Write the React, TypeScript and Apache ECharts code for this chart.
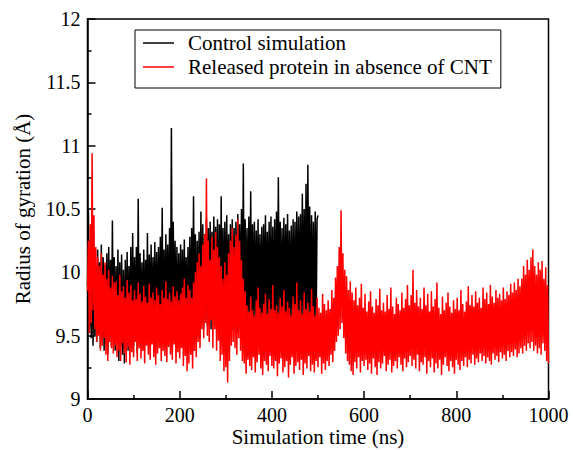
import React, { useEffect, useRef } from "react";
import * as echarts from "echarts";

// Sampling step of both trajectories (ns)
const STEP_NS = 2;

const xTicks = [0, 200, 400, 600, 800, 1000];
const yTicks = [9, 9.5, 10, 10.5, 11, 11.5, 12];

const seriesNames = ["Control simulation", "Released protein in absence of CNT"];

// Control simulation, t = 0..500 ns every 2 ns
const controlRg = [
  9.90, 10.49, 9.55, 10.20, 9.48, 10.15, 9.42, 10.10, 9.50, 10.05,
  9.45, 10.18, 9.52, 10.08, 9.40, 10.22, 9.47, 10.12, 9.38, 10.06,
  9.44, 10.15, 9.36, 10.20, 9.50, 10.10, 9.42, 10.41, 9.48, 10.12,
  9.38, 10.05, 9.45, 10.18, 9.30, 10.08, 9.42, 10.14, 9.35, 10.02,
  9.28, 10.10, 9.44, 10.16, 9.38, 10.05, 9.46, 10.20, 9.40, 10.31,
  9.42, 10.12, 9.48, 10.20, 9.36, 10.58, 9.44, 10.15, 9.50, 10.08,
  9.40, 10.18, 9.46, 10.10, 9.52, 10.31, 9.43, 10.14, 9.48, 10.22,
  9.45, 10.12, 9.50, 10.24, 9.41, 10.16, 9.47, 10.20, 9.53, 10.28,
  9.44, 10.51, 9.50, 10.18, 9.46, 10.30, 9.55, 10.22, 9.48, 10.35,
  9.52, 11.14, 9.58, 10.40, 9.50, 10.25, 9.45, 10.20, 9.52, 10.15,
  9.48, 10.22, 9.54, 10.18, 9.42, 10.26, 9.50, 10.12, 9.46, 10.20,
  9.55, 10.28, 9.48, 10.35, 9.52, 10.60, 9.58, 10.30, 9.50, 10.25,
  9.56, 10.32, 9.48, 10.48, 9.60, 10.38, 9.55, 10.30, 9.62, 10.42,
  9.58, 10.35, 9.65, 10.40, 9.55, 10.32, 9.60, 10.44, 9.57, 10.36,
  9.62, 10.42, 9.55, 10.38, 9.60, 10.60, 9.52, 10.35, 9.58, 10.40,
  9.55, 10.45, 9.62, 10.30, 9.50, 10.38, 9.58, 10.42, 9.54, 10.35,
  9.60, 10.40, 9.52, 10.46, 9.58, 10.38, 9.63, 10.50, 9.55, 10.86,
  9.58, 10.42, 9.62, 10.35, 9.55, 10.44, 9.60, 10.64, 9.57, 10.38,
  9.62, 10.40, 9.56, 10.33, 9.60, 10.42, 9.54, 10.30, 9.59, 10.36,
  9.55, 10.38, 9.60, 10.45, 9.57, 10.32, 9.63, 10.40, 9.56, 10.44,
  9.60, 10.36, 9.55, 10.42, 9.62, 10.48, 9.58, 10.75, 9.61, 10.40,
  9.57, 10.35, 9.62, 10.43, 9.55, 10.38, 9.60, 10.46, 9.56, 10.33,
  9.62, 10.37, 9.58, 10.42, 9.55, 10.40, 9.61, 10.48, 9.57, 10.44,
  9.60, 10.46, 9.56, 10.62, 9.62, 10.50, 9.58, 10.70, 9.60, 10.85,
  9.62, 10.52, 9.58, 10.45, 9.60, 10.40, 9.55, 10.48, 9.62, 10.42,
  10.45,
];

// Released protein without CNT, t = 0..1000 ns every 2 ns
const releasedRg = [
  9.85, 10.25, 9.52, 10.38, 9.60, 10.94, 9.70, 10.45, 9.55, 10.20,
  9.45, 10.12, 9.50, 10.05, 9.38, 10.15, 9.42, 9.98, 9.48, 10.08,
  9.35, 9.95, 9.30, 10.02, 9.45, 9.88, 9.40, 9.97, 9.36, 9.92,
  9.42, 9.93, 9.33, 9.82, 9.38, 9.98, 9.30, 9.85, 9.44, 9.89,
  9.36, 9.80, 9.29, 9.94, 9.41, 9.84, 9.27, 9.90, 9.37, 9.78,
  9.33, 9.86, 9.45, 9.79, 9.30, 9.92, 9.40, 9.83, 9.32, 9.77,
  9.38, 9.89, 9.28, 9.81, 9.42, 9.76, 9.35, 9.91, 9.31, 9.80,
  9.43, 9.84, 9.33, 9.78, 9.27, 9.88, 9.36, 9.82, 9.40, 9.75,
  9.30, 9.86, 9.38, 9.80, 9.34, 9.93, 9.29, 9.79, 9.41, 9.84,
  9.35, 9.77, 9.31, 9.89, 9.43, 9.81, 9.28, 9.85, 9.37, 9.78,
  9.32, 9.83, 9.40, 9.88, 9.26, 9.95, 9.34, 9.80, 9.22, 9.90,
  9.28, 9.86, 9.35, 9.80, 9.24, 9.92, 9.38, 10.00, 9.33, 10.08,
  9.45, 10.15, 9.40, 10.05, 9.55, 10.22, 9.48, 10.30, 9.60, 10.74,
  9.50, 10.25, 9.45, 10.10, 9.62, 10.28, 9.40, 10.18, 9.55, 10.32,
  9.38, 10.20, 9.46, 10.12, 9.30, 10.05, 9.35, 9.95, 9.22, 10.08,
  9.25, 9.98, 9.13, 10.15, 9.30, 10.25, 9.42, 10.35, 9.45, 10.20,
  9.40, 10.30, 9.35, 10.42, 9.48, 10.25, 9.38, 10.10, 9.30, 9.95,
  9.28, 9.85, 9.20, 9.74, 9.31, 9.69, 9.26, 9.81, 9.23, 9.70,
  9.33, 9.66, 9.21, 9.78, 9.29, 9.88, 9.35, 9.72, 9.24, 9.68,
  9.19, 9.75, 9.30, 9.83, 9.27, 9.67, 9.22, 9.79, 9.34, 9.71,
  9.26, 9.90, 9.24, 9.70, 9.30, 9.74, 9.18, 9.68, 9.28, 9.80,
  9.32, 9.73, 9.21, 9.86, 9.25, 9.69, 9.30, 9.77, 9.17, 9.72,
  9.27, 9.66, 9.33, 9.81, 9.20, 9.75, 9.26, 9.92, 9.29, 9.70,
  9.23, 9.78, 9.31, 9.67, 9.19, 9.84, 9.28, 9.71, 9.24, 9.76,
  9.34, 9.69, 9.22, 9.87, 9.27, 9.73, 9.21, 9.66, 9.30, 9.80,
  9.25, 9.72, 9.33, 9.68, 9.20, 9.83, 9.28, 9.75, 9.23, 9.70,
  9.30, 9.78, 9.26, 9.71, 9.35, 9.86, 9.29, 9.80, 9.38, 9.96,
  9.45, 10.05, 9.50, 10.20, 9.55, 10.49, 9.60, 10.15, 9.48, 10.02,
  9.36, 9.97, 9.30, 9.86, 9.27, 9.93, 9.22, 9.84, 9.19, 9.78,
  9.29, 9.88, 9.24, 9.74, 9.33, 9.80, 9.21, 9.91, 9.30, 9.72,
  9.26, 9.83, 9.31, 9.69, 9.23, 9.77, 9.28, 9.85, 9.20, 9.73,
  9.32, 9.68, 9.25, 9.79, 9.19, 9.74, 9.29, 9.87, 9.24, 9.70,
  9.28, 9.76, 9.34, 9.69, 9.22, 9.82, 9.27, 9.71, 9.31, 9.88,
  9.21, 9.73, 9.26, 9.67, 9.30, 9.80, 9.24, 9.75, 9.33, 9.70,
  9.27, 9.84, 9.22, 9.72, 9.32, 9.79, 9.25, 9.90, 9.29, 9.74,
  9.34, 9.82, 9.26, 10.02, 9.31, 9.76, 9.24, 9.86, 9.35, 9.73,
  9.22, 9.80, 9.29, 9.71, 9.27, 9.88, 9.33, 9.74, 9.20, 9.83,
  9.30, 9.69, 9.25, 9.85, 9.32, 9.73, 9.21, 9.79, 9.28, 9.92,
  9.24, 9.72, 9.31, 9.67, 9.19, 9.81, 9.27, 9.70, 9.33, 9.76,
  9.26, 9.84, 9.22, 9.73, 9.30, 9.68, 9.25, 9.78, 9.20, 9.71,
  9.31, 9.80, 9.27, 9.70, 9.23, 9.86, 9.30, 9.75, 9.26, 9.69,
  9.33, 9.77, 9.25, 9.89, 9.31, 9.74, 9.28, 9.82, 9.35, 9.73,
  9.27, 9.85, 9.32, 9.76, 9.29, 9.80, 9.36, 9.72, 9.30, 9.88,
  9.34, 9.79, 9.28, 9.84, 9.33, 9.75, 9.30, 9.90, 9.27, 9.81,
  9.36, 9.76, 9.31, 9.86, 9.34, 9.80, 9.29, 9.83, 9.37, 9.78,
  9.32, 9.88, 9.35, 9.79, 9.30, 9.85, 9.38, 9.82, 9.33, 9.91,
  9.37, 9.84, 9.34, 9.92, 9.39, 9.86, 9.33, 9.95, 9.36, 9.89,
  9.40, 9.95, 9.36, 10.05, 9.42, 9.98, 9.38, 10.10, 9.44, 10.02,
  9.40, 10.12, 9.45, 10.18, 9.38, 10.05, 9.42, 9.98, 9.36, 10.08,
  9.40, 10.02, 9.35, 10.09, 9.44, 9.95, 9.38, 10.04, 9.30, 9.90,
  9.28,
];

const FONT = "Liberation Serif";

export default function App() {
  const ref = useRef<HTMLDivElement>(null);

  useEffect(() => {
    if (!ref.current) return;
    const chart = echarts.init(ref.current, undefined, { renderer: "svg" });
    const toPairs = (arr: number[]) => arr.map((v, i) => [i * STEP_NS, v]);

    chart.setOption({
      animation: false,
      backgroundColor: "#ffffff",
      textStyle: { fontFamily: FONT, color: "#000" },
      grid: {
        left: 87.5,
        right: 24.5,
        top: 19,
        bottom: 51,
        containLabel: false,
        outerBoundsMode: "none",
        show: true,
        borderColor: "#000",
        borderWidth: 1.5,
        backgroundColor: "transparent",
      },
      legend: {
        orient: "vertical",
        left: 135,
        top: 30,
        padding: [1, 9, 9, 8],
        itemGap: 0,
        itemWidth: 31,
        itemHeight: 1.5,
        icon: "rect",
        borderColor: "#000",
        borderWidth: 1,
        backgroundColor: "#fff",
        data: seriesNames,
        textStyle: {
          fontFamily: FONT,
          fontSize: 21,
          color: "#000",
          lineHeight: 24,
          padding: [0, 0, 0, 9],
        },
      },
      xAxis: {
        type: "value",
        min: xTicks[0],
        max: xTicks[xTicks.length - 1],
        interval: 200,
        name: "Simulation time (ns)",
        nameLocation: "middle",
        nameGap: 27,
        nameMoveOverlap: false,
        nameTextStyle: { fontFamily: FONT, fontSize: 21, lineHeight: 21, color: "#000" },
        axisLine: { show: true, lineStyle: { color: "#000", width: 1.5 } },
        axisTick: { show: true, inside: true, length: 8, lineStyle: { color: "#000", width: 1.5 } },
        minorTick: { show: true, splitNumber: 2, length: 4, lineStyle: { color: "#000", width: 1.5 } },
        axisLabel: {
          fontFamily: FONT,
          fontSize: 20,
          color: "#000",
          margin: 6,
          formatter: (v: number) => String(v),
        },
        splitLine: { show: false },
      },
      yAxis: {
        type: "value",
        min: yTicks[0],
        max: yTicks[yTicks.length - 1],
        interval: 0.5,
        name: "Radius of gyration (Å)",
        nameLocation: "middle",
        nameGap: 54,
        nameMoveOverlap: false,
        nameTextStyle: { fontFamily: FONT, fontSize: 21, color: "#000" },
        axisLine: { show: true, lineStyle: { color: "#000", width: 1.5 } },
        axisTick: { show: true, inside: true, length: 8, lineStyle: { color: "#000", width: 1.5 } },
        minorTick: { show: true, splitNumber: 2, length: 4, lineStyle: { color: "#000", width: 1.5 } },
        axisLabel: {
          fontFamily: FONT,
          fontSize: 20,
          color: "#000",
          margin: 7,
          formatter: (v: number) => String(v),
        },
        splitLine: { show: false },
      },
      series: [
        {
          name: seriesNames[0],
          type: "line",
          data: toPairs(controlRg),
          showSymbol: false,
          symbol: "none",
          lineStyle: { color: "#000000", width: 1.5 },
          itemStyle: { color: "#000000" },
          z: 2,
        },
        {
          name: seriesNames[1],
          type: "line",
          data: toPairs(releasedRg),
          showSymbol: false,
          symbol: "none",
          lineStyle: { color: "#ff0000", width: 1.5 },
          itemStyle: { color: "#ff0000" },
          z: 3,
        },
      ],
    });

    return () => chart.dispose();
  }, []);

  return (
    <div
      ref={ref}
      style={{ position: "fixed", left: 0, top: 0, width: 573, height: 450, background: "#fff" }}
    />
  );
}
